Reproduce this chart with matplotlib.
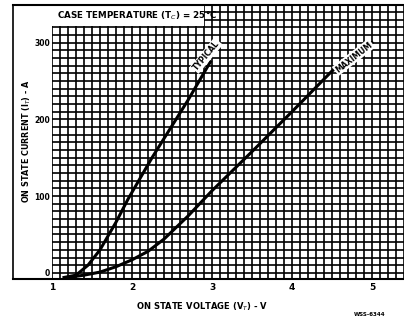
import matplotlib.pyplot as plt
import numpy as np
from matplotlib.lines import Line2D
from matplotlib.patches import Rectangle

# On-state characteristics
typ_v = [1.15, 1.3, 1.45, 1.6, 1.8, 1.95, 2.25, 2.7, 2.98]
typ_i = [-6, -3, 10, 30, 66, 96, 150, 225, 275]

max_v = [1.2, 1.4, 1.6, 1.8, 2.0, 2.2, 2.4, 2.7, 3.0, 3.5, 4.0, 4.5, 5.0]
max_i = [-6, -3, 1, 8, 17, 28, 44, 74, 107, 158, 210, 263, 300]

x_ticks = [1, 2, 3, 4, 5]
y_ticks = [0, 100, 200, 300]

fig = plt.figure(figsize=(4.04, 3.21), dpi=100)
ax = fig.add_axes([52 / 404, 42 / 321, 352 / 404, 274 / 321])
ax.set_xlim(1.0, 5.4)
ax.set_ylim(-8, 349)

# dense chart-paper grid
for v in np.arange(1.0, 5.45, 0.1):
    ax.axvline(v, color='black', lw=1.2, zorder=1)
for i in np.arange(0, 350, 10):
    ax.axhline(i, color='black', lw=1.2, zorder=1)

ax.plot(typ_v, typ_i, color='black', lw=2.2, zorder=3)
ax.plot(max_v, max_i, color='black', lw=2.2, zorder=3)

# curve labels in white boxes
box = dict(boxstyle='square,pad=0.15', fc='white', ec='none')
ax.text(2.93, 283, 'TYPICAL', rotation=50, fontsize=5.5, fontweight='bold',
        ha='center', va='center', bbox=box, zorder=4)
ax.text(4.77, 281, 'MAXIMUM', rotation=38, fontsize=5.5, fontweight='bold',
        ha='center', va='center', bbox=box, zorder=4)

# title box at top left
ax.add_patch(Rectangle((1.0, 321), 1.9, 30, fc='white', ec='none', zorder=2))
ax.text(1.06, 335, 'CASE TEMPERATURE (T$_C$) = 25°C', fontsize=6.3,
        fontweight='bold', ha='left', va='center', zorder=4)

ax.set_xticks(x_ticks)
ax.set_yticks(y_ticks)
ax.tick_params(axis='x', length=0, labelsize=6.5, pad=3)
ax.tick_params(axis='y', length=0, labelsize=5.5, pad=1.5)
for lab in ax.get_xticklabels() + ax.get_yticklabels():
    lab.set_fontweight('bold')
for s in ax.spines.values():
    s.set_visible(False)

# outer frame lines
fig.add_artist(Line2D([13 / 404, 13 / 404], [42 / 321, 316 / 321], color='black', lw=1.2))
fig.add_artist(Line2D([13 / 404, 1.0], [42 / 321, 42 / 321], color='black', lw=1.5))
fig.add_artist(Line2D([13 / 404, 1.0], [316 / 321, 316 / 321], color='black', lw=1.5))

fig.text(27 / 404, 1 - 141 / 321, 'ON STATE CURRENT (I$_T$) - A', rotation=90,
         fontsize=5.8, fontweight='bold', ha='center', va='center')
fig.text(202 / 404, 1 - 307 / 321, 'ON STATE VOLTAGE (V$_T$) - V',
         fontsize=6, fontweight='bold', ha='center', va='center')
fig.text(370 / 404, 1 - 315 / 321, 'WSS-6344', fontsize=4,
         fontweight='bold', ha='center', va='center')

fig.savefig('out.png', dpi=100)
